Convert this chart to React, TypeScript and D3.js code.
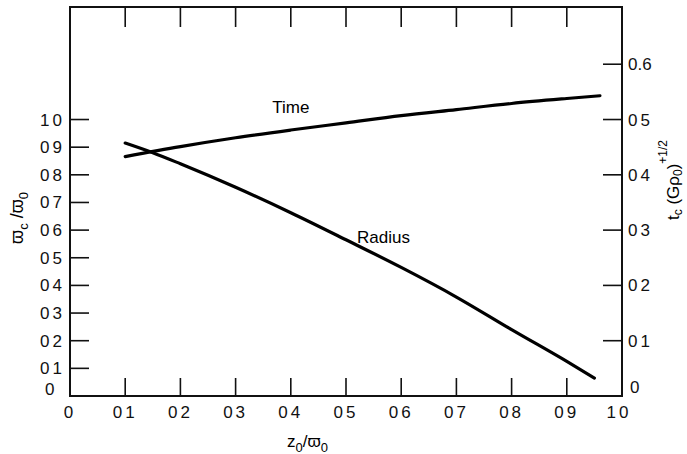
import React, { useEffect, useRef } from "react";
import { select, scaleLinear, line, curveMonotoneX } from "d3";

// Radius curve (left axis)
const radiusX = [0.1, 0.15, 0.2, 0.3, 0.4, 0.5, 0.6, 0.7, 0.8, 0.9, 0.95];
const radiusY = [0.915, 0.88, 0.84, 0.755, 0.663, 0.565, 0.465, 0.358, 0.24, 0.125, 0.065];

// Time curve (right axis)
const timeX = [0.1, 0.2, 0.3, 0.4, 0.5, 0.6, 0.7, 0.8, 0.9, 0.96];
const timeY = [0.433, 0.451, 0.467, 0.481, 0.494, 0.507, 0.518, 0.529, 0.538, 0.543];

const xTicks = [0, 0.1, 0.2, 0.3, 0.4, 0.5, 0.6, 0.7, 0.8, 0.9, 1.0];
const xTickLabels = ["0", "01", "02", "03", "04", "05", "06", "07", "08", "09", "10"];
const leftTicks = [0.1, 0.2, 0.3, 0.4, 0.5, 0.6, 0.7, 0.8, 0.9, 1.0];
const leftTickLabels = ["01", "02", "03", "04", "05", "06", "07", "08", "09", "10"];
const rightTicks = [0.1, 0.2, 0.3, 0.4, 0.5, 0.6];
const rightTickLabels = ["01", "02", "03", "04", "05", "0.6"];

const W = 687;
const H = 454;
const FONT = "'Liberation Sans', Arial, Helvetica, sans-serif";

const App = () => {
  const svgRef = useRef(null);

  useEffect(() => {
    const svg = select(svgRef.current);
    svg.selectAll("*").remove();

    const left = 70, right = 622, top = 7, bottom = 396;
    const leftMax = 1.407;

    const xScale = scaleLinear().domain([0, 1]).range([left, right]);
    const yLeft = scaleLinear().domain([0, leftMax]).range([bottom, top]);
    const yRight = scaleLinear().domain([0, leftMax / 2]).range([bottom, top]);

    // frame
    svg
      .append("rect")
      .attr("x", left)
      .attr("y", top)
      .attr("width", right - left)
      .attr("height", bottom - top)
      .attr("fill", "none")
      .attr("stroke", "#111")
      .attr("stroke-width", 2);

    const inner = xTicks.slice(1, 10);

    // bottom + top ticks
    svg
      .selectAll(".xtick-b")
      .data(inner)
      .join("line")
      .attr("class", "xtick-b")
      .attr("x1", (d) => xScale(d))
      .attr("x2", (d) => xScale(d))
      .attr("y1", bottom)
      .attr("y2", bottom - 18)
      .attr("stroke", "#111")
      .attr("stroke-width", 1.6);

    svg
      .selectAll(".xtick-t")
      .data(inner)
      .join("line")
      .attr("class", "xtick-t")
      .attr("x1", (d) => xScale(d))
      .attr("x2", (d) => xScale(d))
      .attr("y1", top)
      .attr("y2", top + 20)
      .attr("stroke", "#111")
      .attr("stroke-width", 1.6);

    svg
      .selectAll(".ytick-l")
      .data(leftTicks)
      .join("line")
      .attr("class", "ytick-l")
      .attr("x1", left)
      .attr("x2", left + 19)
      .attr("y1", (d) => yLeft(d))
      .attr("y2", (d) => yLeft(d))
      .attr("stroke", "#111")
      .attr("stroke-width", 1.6);

    svg
      .selectAll(".ytick-r")
      .data(rightTicks)
      .join("line")
      .attr("class", "ytick-r")
      .attr("x1", right)
      .attr("x2", right - 19)
      .attr("y1", (d) => yRight(d))
      .attr("y2", (d) => yRight(d))
      .attr("stroke", "#111")
      .attr("stroke-width", 1.6);

    // tick labels
    const label = (sel) =>
      sel
        .attr("font-family", FONT)
        .attr("font-size", 17)
        .attr("letter-spacing", 3)
        .attr("fill", "#111");

    svg
      .selectAll(".xlab")
      .data(xTicks)
      .join("text")
      .attr("class", "xlab")
      .call(label)
      .attr("x", (d) => xScale(d) + (d === 1 ? -3 : 0))
      .attr("y", 418)
      .attr("text-anchor", "middle")
      .text((d, i) => xTickLabels[i]);

    svg
      .selectAll(".llab")
      .data(leftTicks)
      .join("text")
      .attr("class", "llab")
      .call(label)
      .attr("x", 65)
      .attr("y", (d) => yLeft(d) + 6)
      .attr("text-anchor", "end")
      .text((d, i) => leftTickLabels[i]);

    svg
      .selectAll(".rlab")
      .data(rightTicks)
      .join("text")
      .attr("class", "rlab")
      .call(label)
      .attr("x", 628)
      .attr("y", (d) => yRight(d) + 6)
      .attr("letter-spacing", (d, i) => (rightTickLabels[i].length > 2 ? 0 : 3))
      .text((d, i) => rightTickLabels[i]);

    svg.append("text").call(label).attr("x", 45).attr("y", bottom - 1).text("0");
    svg.append("text").call(label).attr("x", 630).attr("y", bottom - 3).text("0");

    // curves
    const radiusPts = radiusX.map((x, i) => [xScale(x), yLeft(radiusY[i])]);
    const timePts = timeX.map((x, i) => [xScale(x), yRight(timeY[i])]);
    const lineGen = line().curve(curveMonotoneX);

    svg
      .append("path")
      .attr("d", lineGen(radiusPts))
      .attr("fill", "none")
      .attr("stroke", "#000")
      .attr("stroke-width", 3.2)
      .attr("stroke-linecap", "round");

    svg
      .append("path")
      .attr("d", lineGen(timePts))
      .attr("fill", "none")
      .attr("stroke", "#000")
      .attr("stroke-width", 3.2)
      .attr("stroke-linecap", "round");

    // curve labels
    svg
      .append("text")
      .attr("font-family", FONT)
      .attr("font-size", 17)
      .attr("x", xScale(0.4))
      .attr("y", yRight(0.512))
      .attr("text-anchor", "middle")
      .text("Time");

    svg
      .append("text")
      .attr("font-family", FONT)
      .attr("font-size", 17)
      .attr("x", xScale(0.52))
      .attr("y", yLeft(0.553))
      .text("Radius");

    // x axis title
    const xt = svg
      .append("text")
      .attr("font-family", FONT)
      .attr("font-size", 17)
      .attr("x", 287)
      .attr("y", 447);
    xt.append("tspan").text("z");
    xt.append("tspan").attr("dy", 5).attr("font-size", 13).text("0");
    xt.append("tspan").attr("dy", -5).text("/ϖ");
    xt.append("tspan").attr("dy", 5).attr("font-size", 13).text("0");

    // left axis title
    const lt = svg
      .append("text")
      .attr("font-family", FONT)
      .attr("font-size", 18)
      .attr("text-anchor", "middle")
      .attr("transform", "translate(23,218) rotate(-90)");
    lt.append("tspan").text("ϖ");
    lt.append("tspan").attr("dy", 5).attr("font-size", 13).text("c");
    lt.append("tspan").attr("dy", -5).text(" /ϖ");
    lt.append("tspan").attr("dy", 5).attr("font-size", 13).text("0");

    // right axis title
    const rt = svg
      .append("text")
      .attr("font-family", FONT)
      .attr("font-size", 17)
      .attr("text-anchor", "middle")
      .attr("transform", "translate(679,180) rotate(-90)");
    rt.append("tspan").text("t");
    rt.append("tspan").attr("dy", 3).attr("font-size", 12).text("c");
    rt.append("tspan").attr("dy", -3).text(" (Gρ");
    rt.append("tspan").attr("dy", 3).attr("font-size", 12).text("0");
    rt.append("tspan").attr("dy", -3).text(")");
    rt.append("tspan").attr("dy", -12).attr("font-size", 12).text("+1/2");
  }, []);

  return (
    <svg
      ref={svgRef}
      width={W}
      height={H}
      style={{ position: "absolute", left: 0, top: 0, background: "#fff" }}
    />
  );
};

export default App;
